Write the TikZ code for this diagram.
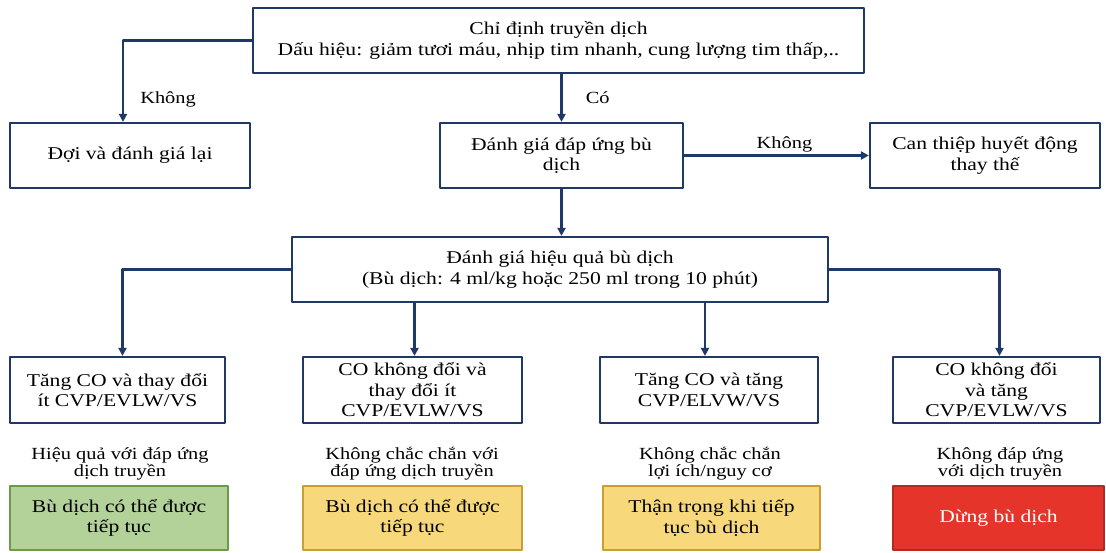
\documentclass[tikz,border=0pt]{standalone}
\usepackage{fontspec}
\setmainfont[FakeStretch=1.2]{Liberation Serif}
\usetikzlibrary{arrows.meta,calc,positioning}
\definecolor{navy}{HTML}{1F3868}
\definecolor{okfill}{HTML}{B3D29A}
\definecolor{okline}{HTML}{6E9A48}
\definecolor{waitfill}{HTML}{F7D87A}
\definecolor{waitline}{HTML}{C9A030}
\definecolor{stopfill}{HTML}{E5352A}
\definecolor{stopline}{HTML}{B52A20}
\tikzset{
  blk/.style={draw=navy, line width=2.2pt, minimum height=65pt, inner sep=2pt, align=center, font=\fontsize{18}{20.5}\selectfont},
  res/.style={line width=2.2pt, minimum height=64pt, inner sep=2pt, align=center, font=\fontsize{18}{20.5}\selectfont},
  note/.style={align=center, inner sep=1pt, font=\fontsize{17}{17}\selectfont},
  arr/.style={draw=navy, line width=2.6pt, -{Triangle[length=8pt,width=8pt]}},
  every picture/.style={line cap=round, line join=round}
}

\begin{document}
\begin{tikzpicture}[x=1pt,y=-1pt]
  \useasboundingbox (0,0) rectangle (1106,552);

  \node[blk, minimum width=611pt] (ind) at (558.5,40.5) {Chỉ định truyền dịch\\Dấu hiệu: giảm tươi máu, nhịp tim nhanh, cung lượng tim thấp,..};

  \node[blk, minimum width=240pt] (doi) at (130,155.5) {Đợi và đánh giá lại};
  \node[blk, minimum width=243pt] (dg) at (561.5,155.5) {Đánh giá đáp ứng bù\\dịch};
  \node[blk, minimum width=230pt] (ct) at (985,155.5) {Can thiệp huyết động\\thay thế};

  \node[blk, minimum width=536pt] (hq) at (560,269.5) {Đánh giá hiệu quả bù dịch\\(Bù dịch: 4 ml/kg hoặc 250 ml trong 10 phút)};

  \node[blk, minimum width=215pt, minimum height=66pt] (b1) at (117.5,390) {Tăng CO và thay đổi\\ít CVP/EVLW/VS};
  \node[blk, minimum width=219pt, minimum height=66pt] (b2) at (412.5,390) {CO không đổi và\\thay đổi ít\\CVP/EVLW/VS};
  \node[blk, minimum width=218pt, minimum height=66pt] (b3) at (709,390) {Tăng CO và tăng\\CVP/ELVW/VS};
  \node[blk, minimum width=207pt, minimum height=66pt] (b4) at (996.5,390) {CO không đổi\\và tăng\\CVP/EVLW/VS};

  \node[note] (n1) at (120,464) {Hiệu quả với đáp ứng\\dịch truyền};
  \node[note] (n2) at (412,464) {Không chắc chắn với\\đáp ứng dịch truyền};
  \node[note] (n3) at (710,464) {Không chắc chắn\\lợi ích/nguy cơ};
  \node[note] (n4) at (1000,464) {Không đáp ứng\\với dịch truyền};

  \node[res, draw=okline, fill=okfill, minimum width=218pt] (r1) at (119,518) {Bù dịch có thể được\\tiếp tục};
  \node[res, draw=waitline, fill=waitfill, minimum width=219pt] (r2) at (412.5,518) {Bù dịch có thể được\\tiếp tục};
  \node[res, draw=waitline, fill=waitfill, minimum width=217pt] (r3) at (711.5,518) {Thận trọng khi tiếp\\tục bù dịch};
  \node[res, draw=stopline, fill=stopfill, text=white, minimum width=211pt] (r4) at (998.5,518) {Dừng bù dịch};

  % nhanh dau
  \draw[arr] (ind.west) -| node[pos=0.86, right=15pt, note] {Không} ([xshift=-7pt]doi.north);
  \draw[arr] (ind.south -| dg.north) -- node[midway, right=22pt, note] {Có} (dg.north);
  \draw[arr] (dg.east) -- node[above=1pt, note, xshift=8pt] {Không} (ct.west);
  \draw[arr] (dg.south) -- (dg.south |- hq.north);

  % bon nhanh
  \draw[arr] (hq.west) -| ([xshift=5pt]b1.north);
  \draw[arr] ([xshift=2pt]b2.north |- hq.south) -- ([xshift=2pt]b2.north);
  \draw[arr] ([xshift=-4pt]b3.north |- hq.south) -- ([xshift=-4pt]b3.north);
  \draw[arr] (hq.east) -| ([xshift=3pt]b4.north);
\end{tikzpicture}
\end{document}
